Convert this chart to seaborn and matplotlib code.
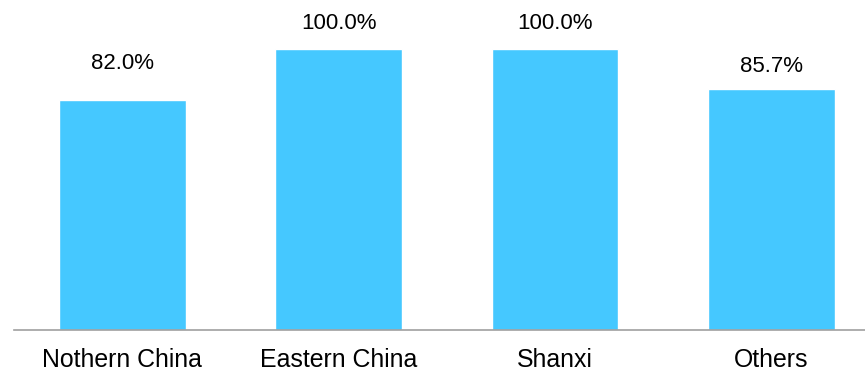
import matplotlib
matplotlib.use("Agg")
import matplotlib.pyplot as plt
import seaborn as sns
import pandas as pd

categories = ["Nothern China", "Eastern China", "Shanxi", "Others"]
values = [82.0, 100.0, 100.0, 85.7]
value_labels = ["82.0%", "100.0%", "100.0%", "85.7%"]

# label offsets above bar tops (pixels), styling only
label_offsets_px = [36, 25, 25, 23]

sns.set_theme(style="white")
plt.rcParams["font.family"] = ["Liberation Sans", "DejaVu Sans"]

df = pd.DataFrame({"cat": categories, "val": values})

fig = plt.figure(figsize=(8.65, 3.71), dpi=100)
ax = fig.add_axes([14 / 865, 1 - 330 / 371, 1 - 14 / 865, 330 / 371])

sns.barplot(data=df, x="cat", y="val", color="#45C8FF", saturation=1,
            width=0.586, ax=ax)

ax.set_xlim(-0.501, 3.434)
ax.set_ylim(0, 117.4)
ax.set_xlabel("")
ax.set_ylabel("")
ax.set_yticks([])
for s in ["top", "right", "left"]:
    ax.spines[s].set_visible(False)
ax.spines["bottom"].set_color("#A0A0A0")
ax.spines["bottom"].set_linewidth(1.2)
ax.tick_params(axis="x", length=0, pad=13, labelsize=17.9, labelcolor="black")

for i, (v, lab, off) in enumerate(zip(values, value_labels, label_offsets_px)):
    ax.annotate(lab, xy=(i, v), xytext=(0, off * 0.72), textcoords="offset points",
                ha="center", va="center", fontsize=16, color="black")

fig.savefig("out.png", dpi=100)
